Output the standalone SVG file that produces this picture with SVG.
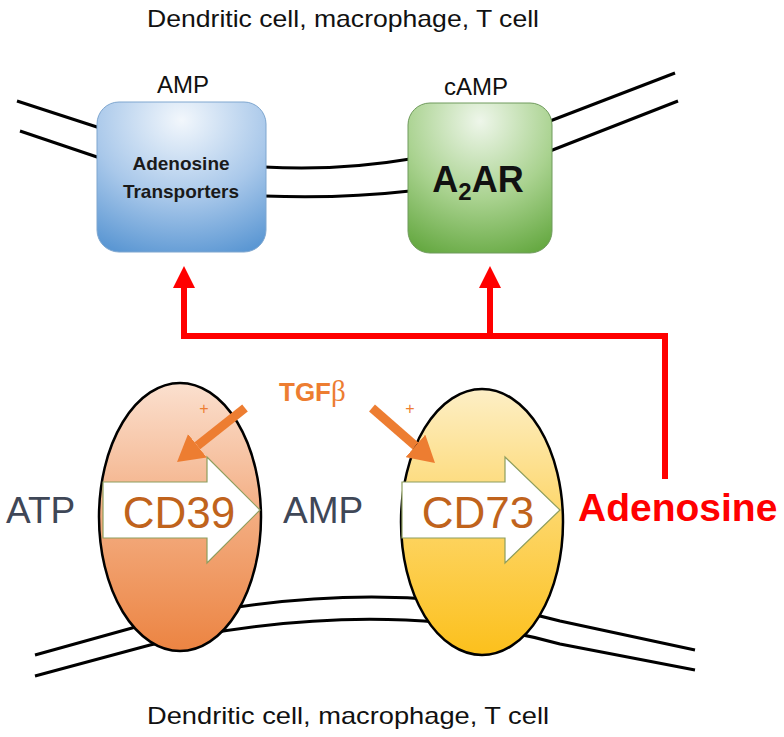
<svg xmlns="http://www.w3.org/2000/svg" width="784" height="737" viewBox="0 0 784 737">
<defs>
  <radialGradient id="gBlue" cx="0.5" cy="0.12" r="0.95">
    <stop offset="0" stop-color="#f2f7fc"/>
    <stop offset="0.55" stop-color="#a9c8ea"/>
    <stop offset="1" stop-color="#5b97d3"/>
  </radialGradient>
  <radialGradient id="gGreen" cx="0.5" cy="0.12" r="0.95">
    <stop offset="0" stop-color="#eef6ea"/>
    <stop offset="0.55" stop-color="#a9d28f"/>
    <stop offset="1" stop-color="#66a942"/>
  </radialGradient>
  <linearGradient id="gCD39" x1="0" y1="0" x2="0" y2="1">
    <stop offset="0" stop-color="#fbe0cf"/>
    <stop offset="0.5" stop-color="#f3ac80"/>
    <stop offset="1" stop-color="#ec8442"/>
  </linearGradient>
  <linearGradient id="gCD73" x1="0" y1="0" x2="0" y2="1">
    <stop offset="0" stop-color="#fdefc6"/>
    <stop offset="0.5" stop-color="#fdd565"/>
    <stop offset="1" stop-color="#fcc01c"/>
  </linearGradient>
  <marker id="headOrange" markerUnits="userSpaceOnUse" markerWidth="26" markerHeight="30" viewBox="0 0 26 30" refX="0" refY="15" orient="auto">
    <path d="M0,0 L26,15 L0,30 z" fill="#ed7d31"/>
  </marker>
  <marker id="headRed" markerUnits="userSpaceOnUse" markerWidth="22" markerHeight="22" viewBox="0 0 22 22" refX="0" refY="11" orient="auto">
    <path d="M0,0 L22,11 L0,22 z" fill="#ff0000"/>
  </marker>
</defs>
<style>
  .mem { fill: none; stroke: #000; stroke-width: 3; }
  .cap { font-family: "Liberation Sans", Arial, sans-serif; font-size: 24px; fill: #111; }
  .lbl { font-family: "Liberation Sans", Arial, sans-serif; font-size: 24px; fill: #111; }
  .nuc { font-family: "Liberation Sans", Arial, sans-serif; font-size: 37px; fill: #3f4757; }
  .cd { font-family: "Liberation Sans", Arial, sans-serif; font-size: 44px; fill: #c0631c; }
  .blk { fill: #fff; stroke: #8e9e5e; stroke-width: 1.2; }
  .orange { stroke: #ed7d31; stroke-width: 9; fill: none; marker-end: url(#headOrange); }
  .red { stroke: #ff0000; stroke-width: 6; fill: none; }
  .plus { font-family: "Liberation Sans", Arial, sans-serif; font-size: 16px; fill: #ed7d31; }
</style>
<rect width="784" height="737" fill="#fff"/>

<g id="top-cell-label"><text class="cap" x="343" y="27" text-anchor="middle" textLength="392" lengthAdjust="spacingAndGlyphs">Dendritic cell, macrophage, T cell</text></g>

<g id="top-membrane">
  <path class="mem" d="M17,101 L100,128"/>
  <path class="mem" d="M20,131 L100,158"/>
  <path class="mem" d="M264,167 Q340,171 410,159"/>
  <path class="mem" d="M264,196 Q340,199 410,191"/>
  <path class="mem" d="M550,121 L675,73"/>
  <path class="mem" d="M550,151 L678,101"/>
</g>

<g id="adenosine-transporters">
  <rect x="97" y="102" width="169" height="150" rx="22" fill="url(#gBlue)" stroke="#7ea6cf" stroke-width="1"/>
  <text class="lbl" x="183" y="93" text-anchor="middle">AMP</text>
  <text x="181" y="170" text-anchor="middle" font-family="Liberation Sans, Arial, sans-serif" font-weight="bold" font-size="19" fill="#1a1a1a">Adenosine</text>
  <text x="181" y="198" text-anchor="middle" font-family="Liberation Sans, Arial, sans-serif" font-weight="bold" font-size="19" fill="#1a1a1a">Transporters</text>
</g>

<g id="a2ar">
  <rect x="408" y="103" width="144" height="150" rx="22" fill="url(#gGreen)" stroke="#6f9a5c" stroke-width="1"/>
  <text class="lbl" x="476" y="95" text-anchor="middle">cAMP</text>
  <text x="478" y="192" text-anchor="middle" font-family="Liberation Sans, Arial, sans-serif" font-weight="bold" font-size="36" fill="#111">A<tspan font-size="24" dy="8">2</tspan><tspan dy="-8">AR</tspan></text>
</g>

<g id="bottom-membrane">
  <path class="mem" d="M35,655 L150,623 Q380,572 560,621 L695,650"/>
  <path class="mem" d="M35,676 L150,645 Q380,594 560,644 L695,670"/>
</g>

<g id="cd39">
  <ellipse cx="180" cy="517" rx="81" ry="134" fill="url(#gCD39)" stroke="#000" stroke-width="2.5"/>
  <polygon class="blk" points="103,482 207,482 207,457 260,510 207,563 207,538 103,538"/>
  <text class="cd" x="179" y="528" text-anchor="middle">CD39</text>
</g>

<g id="cd73">
  <ellipse cx="482" cy="522" rx="81" ry="133" fill="url(#gCD73)" stroke="#000" stroke-width="2.5"/>
  <polygon class="blk" points="402,482 505,482 505,457 560,510 505,563 505,538 402,538"/>
  <text class="cd" x="478" y="528" text-anchor="middle">CD73</text>
</g>

<g id="atp"><text class="nuc" x="6" y="523">ATP</text></g>
<g id="amp"><text class="nuc" x="283" y="523">AMP</text></g>
<g id="adenosine"><text x="578" y="521" font-family="Liberation Sans, Arial, sans-serif" font-weight="bold" font-size="39" fill="#ff0000">Adenosine</text></g>

<g id="tgfb">
  <text x="279" y="401" font-family="Liberation Sans, Arial, sans-serif" font-weight="bold" font-size="26" fill="#ed7d31">TGF<tspan font-family="Liberation Serif, Times New Roman, serif" font-weight="normal" font-size="29">β</tspan></text>
  <text class="plus" x="204" y="414" text-anchor="middle">+</text>
  <text class="plus" x="410" y="414" text-anchor="middle">+</text>
</g>

<g id="bottom-cell-label"><text class="cap" x="348" y="724" text-anchor="middle" textLength="402" lengthAdjust="spacingAndGlyphs">Dendritic cell, macrophage, T cell</text></g>

<g id="connectors">
  <path class="orange" d="M245,408 L197.4,445.8"/>
  <path class="orange" d="M372,408 L415.4,445.9"/>
  <path class="red" stroke-linejoin="miter" d="M665,479 L665,336 L184,336 L184,288" marker-end="url(#headRed)"/>
  <path class="red" d="M490,336 L490,288" marker-end="url(#headRed)"/>
</g>
</svg>
